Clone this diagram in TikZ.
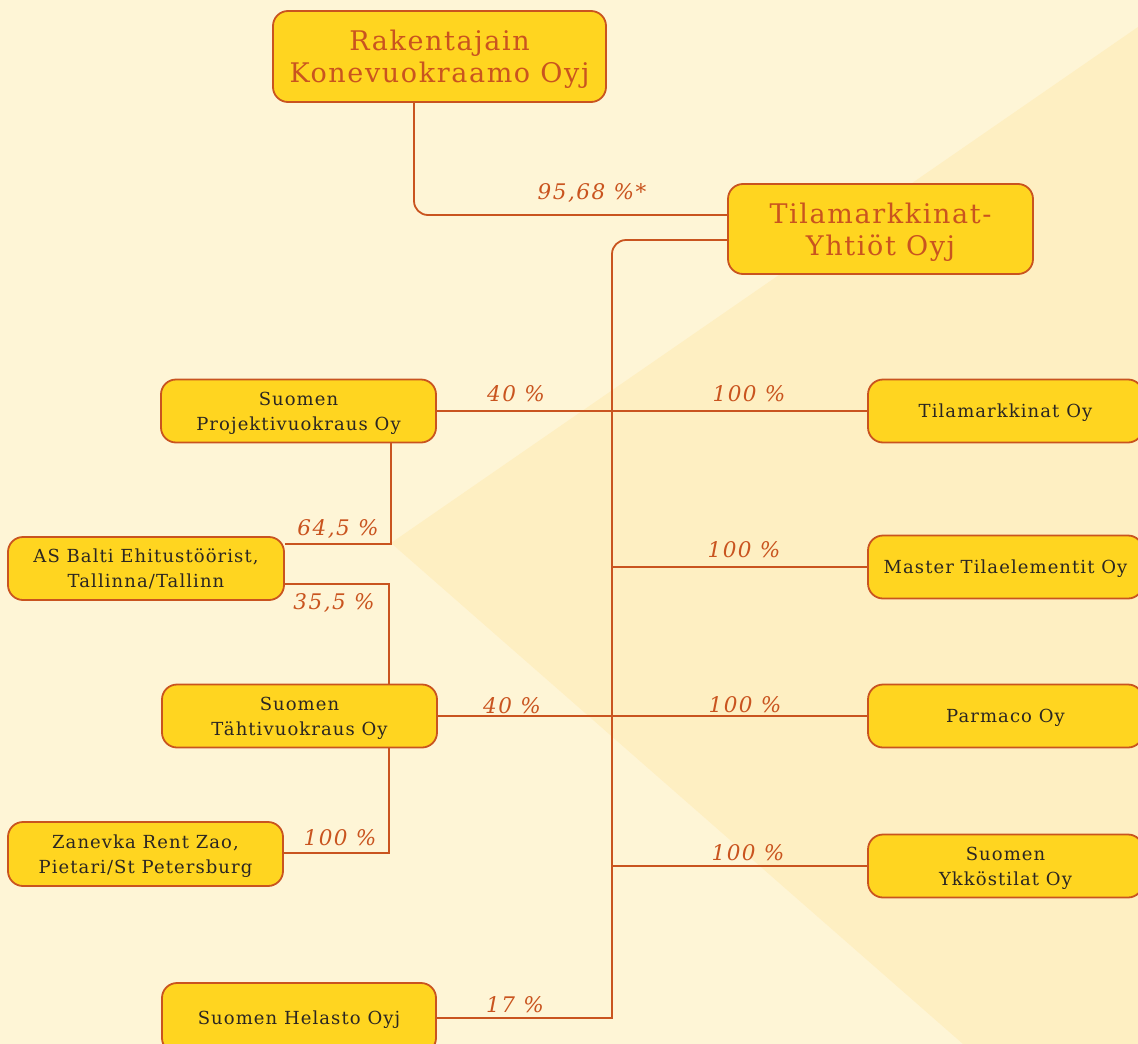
\documentclass[tikz,border=0pt]{standalone}
\usepackage{fontspec}
\setmainfont{DejaVu Serif}
\newfontfamily\boxfont[LetterSpace=6]{DejaVu Serif}
\newfontfamily\pctfont[LetterSpace=7]{DejaVu Serif Italic}
\definecolor{bgc}{HTML}{FEF5D6}
\definecolor{tri}{HTML}{FEEFC2}
\definecolor{boxf}{HTML}{FFD520}
\definecolor{edgec}{HTML}{C9541F}
\definecolor{txt}{HTML}{2B2622}
\tikzset{
  box/.style={draw=edgec, line width=1.8pt, fill=boxf, rounded corners=15pt, align=center, inner sep=0pt,
    text depth=0pt, minimum width=275pt, minimum height=63pt, text=txt, font=\boxfont\fontsize{18}{25}\selectfont},
  bigbox/.style={box, text=edgec, font=\boxfont\fontsize{27}{32}\selectfont},
  link/.style={draw=edgec, line width=1.8pt},
  pct/.style={text=edgec, inner sep=0pt, font=\pctfont\fontsize{21.5}{21.5}\selectfont},
}
\begin{document}
\begin{tikzpicture}[x=1pt,y=-1pt]
\useasboundingbox (0,0) rectangle (1138,1044);
\clip (0,0) rectangle (1138,1044);
\fill[bgc] (0,0) rectangle (1138,1044);
\fill[tri] (391,543) -- (1138,27) -- (1138,1044) -- (963,1044) -- cycle;

\node[bigbox, minimum width=333pt, minimum height=91pt] (rk) at (439.5,56.5) {Rakentajain\\Konevuokraamo Oyj};
\node[bigbox, minimum width=305pt, minimum height=90pt] (ty) at (880.5,229) {Tilamarkkinat-\\Yhtiöt Oyj};

\node[box] (spv) at (298.5,411) {Suomen\\Projektivuokraus Oy};
\node[box] (tm) at (1005.5,411) {Tilamarkkinat Oy};
\node[box, minimum width=276pt] (asb) at (146,568.5) {AS Balti Ehitustöörist,\\Tallinna/Tallinn};
\node[box] (mt) at (1005.5,567) {Master Tilaelementit Oy};
\node[box] (stv) at (299.5,716) {Suomen\\Tähtivuokraus Oy};
\node[box] (pm) at (1005.5,716) {Parmaco Oy};
\node[box, minimum height=64pt] (zr) at (145.5,854) {Zanevka Rent Zao,\\Pietari/St Petersburg};
\node[box] (sy) at (1005.5,866) {Suomen\\Ykköstilat Oy};
\node[box, minimum width=274pt, minimum height=70pt] (sh) at (299,1018) {Suomen Helasto Oyj};

\coordinate (trunktop) at (612,300);
\coordinate (trunkbot) at (612,1018);

\draw[link, rounded corners=14pt] (414,0 |- rk.south) |- (ty.west |- 0,215);
\draw[link, rounded corners=14pt] (ty.west |- 0,240) -| (trunktop);
\draw[link] (trunktop) -- (trunkbot) -- (sh.east);
\draw[link] (spv.east) -- (tm.west);
\draw[link] (trunktop |- mt.west) -- (mt.west);
\draw[link] (stv.east) -- (pm.west);
\draw[link] (trunktop |- sy.west) -- (sy.west);
\draw[link] (391,0 |- spv.south) |- (asb.east |- 0,544);
\draw[link] (asb.east |- 0,584) -| (389,0 |- stv.north);
\draw[link] (389,0 |- stv.south) |- (zr.east |- 0,853);

\node[pct] (p1) at (592,193) {95,68 \%*};
\node[pct] (p2) at (516,394) {40 \%};
\node[pct] (p3) at (749,394) {100 \%};
\node[pct] (p4) at (744,550) {100 \%};
\node[pct] (p5) at (338,529) {64,5 \%};
\node[pct] (p6) at (334,603) {35,5 \%};
\node[pct] (p7) at (512,706) {40 \%};
\node[pct] (p8) at (745,705) {100 \%};
\node[pct] (p9) at (340,838) {100 \%};
\node[pct] (p10) at (748,853) {100 \%};
\node[pct] (p11) at (515,1005) {17 \%};
\end{tikzpicture}
\end{document}
